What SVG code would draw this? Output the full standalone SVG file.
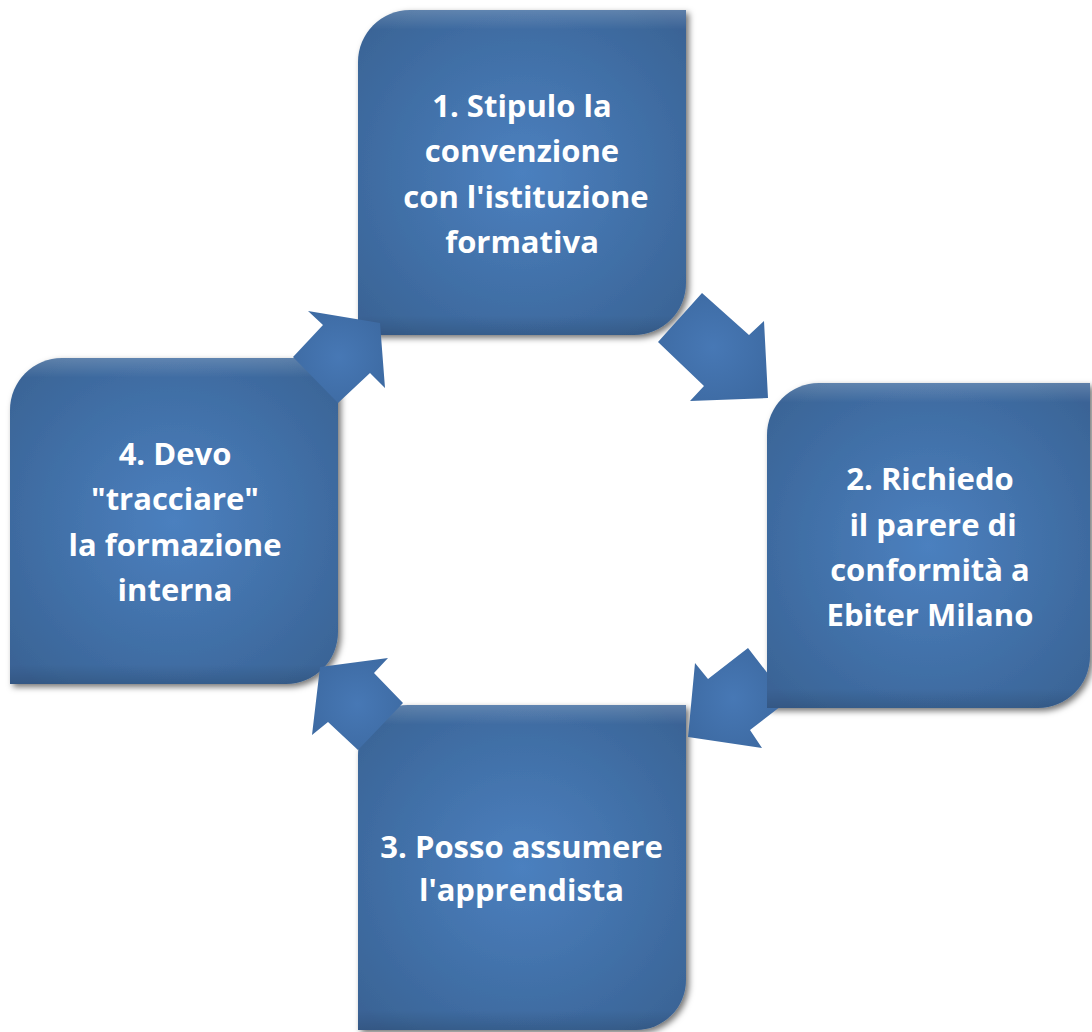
<svg xmlns="http://www.w3.org/2000/svg" width="1092" height="1032" viewBox="0 0 1092 1032">
<defs>
<radialGradient id="boxFill" cx="50%" cy="50%" r="65%">
<stop offset="0" stop-color="#4b80bf"/>
<stop offset="1" stop-color="#3a6496"/>
</radialGradient>
<radialGradient id="arrFill" cx="50%" cy="50%" r="60%">
<stop offset="0" stop-color="#4778b5"/>
<stop offset="1" stop-color="#3d6aa2"/>
</radialGradient>
<linearGradient id="bevel" x1="0" y1="0" x2="0" y2="1">
<stop offset="0" stop-color="#ffffff" stop-opacity="0.18"/>
<stop offset="0.06" stop-color="#ffffff" stop-opacity="0"/>
<stop offset="0.94" stop-color="#000000" stop-opacity="0"/>
<stop offset="1" stop-color="#000000" stop-opacity="0.12"/>
</linearGradient>
<filter id="shadow" x="-10%" y="-10%" width="125%" height="125%">
<feDropShadow dx="3" dy="3" stdDeviation="3" flood-color="#000" flood-opacity="0.55"/>
</filter>
</defs>
<style>
.box{fill:url(#boxFill);filter:url(#shadow)}
.bev{fill:url(#bevel)}
.arr{fill:url(#arrFill)}
.lbl{font-family:"Open Sans","Noto Sans","DejaVu Sans",sans-serif;font-weight:700;font-size:31px;fill:#ffffff;text-anchor:middle}
</style>
<rect width="1092" height="1032" fill="#ffffff"/>
<g id="node1">
<path class="box" d="M358,62 A52,52 0 0 1 410,10 L686,10 L686,283 A52,52 0 0 1 634,335 L358,335 Z"/>
<path class="bev" d="M358,62 A52,52 0 0 1 410,10 L686,10 L686,283 A52,52 0 0 1 634,335 L358,335 Z"/>
<text class="lbl" x="522" y="117">1. Stipulo la</text>
<text class="lbl" x="522" y="162">convenzione</text>
<text class="lbl" x="526" y="208">con l'istituzione</text>
<text class="lbl" x="522" y="253">formativa</text>
</g>
<g id="node2">
<path class="box" d="M767,435 A52,52 0 0 1 819,383 L1090,383 L1090,656 A52,52 0 0 1 1038,708 L767,708 Z"/>
<path class="bev" d="M767,435 A52,52 0 0 1 819,383 L1090,383 L1090,656 A52,52 0 0 1 1038,708 L767,708 Z"/>
<text class="lbl" x="930" y="490">2. Richiedo</text>
<text class="lbl" x="933" y="536">il parere di</text>
<text class="lbl" x="930" y="581">conformità a</text>
<text class="lbl" x="930" y="626">Ebiter Milano</text>
</g>
<g id="node3">
<path class="box" d="M358,755 A50,50 0 0 1 408,705 L686,705 L686,980 A50,50 0 0 1 636,1030 L358,1030 Z"/>
<path class="bev" d="M358,755 A50,50 0 0 1 408,705 L686,705 L686,980 A50,50 0 0 1 636,1030 L358,1030 Z"/>
<text class="lbl" x="521.5" y="858">3. Posso assumere</text>
<text class="lbl" x="521.5" y="901">l'apprendista</text>
</g>
<g id="node4">
<path class="box" d="M10,410 A52,52 0 0 1 62,358 L338,358 L338,632 A52,52 0 0 1 286,684 L10,684 Z"/>
<path class="bev" d="M10,410 A52,52 0 0 1 62,358 L338,358 L338,632 A52,52 0 0 1 286,684 L10,684 Z"/>
<text class="lbl" x="175" y="465">4. Devo</text>
<text class="lbl" x="175" y="510">"tracciare"</text>
<text class="lbl" x="175" y="556">la formazione</text>
<text class="lbl" x="175" y="601">interna</text>
</g>
<g id="connectors">
<polygon id="arrow1" class="arr" points="293,357 323,325 308,311 380,323 385,388 370,373 338,403"/>
<polygon id="arrow2" class="arr" points="702,293 749,335 764,321 768,398 690,401 704,386 658,342"/>
<polygon id="arrow3" class="arr" points="688,737 695,663 708,679 748,648 767,672.5 767,708 778.5,708 750,730 762,748"/>
<polygon id="arrow4" class="arr" points="320,667 388,658 374,673 403,703 358,750 328,722 312,735"/>
</g>
</svg>
